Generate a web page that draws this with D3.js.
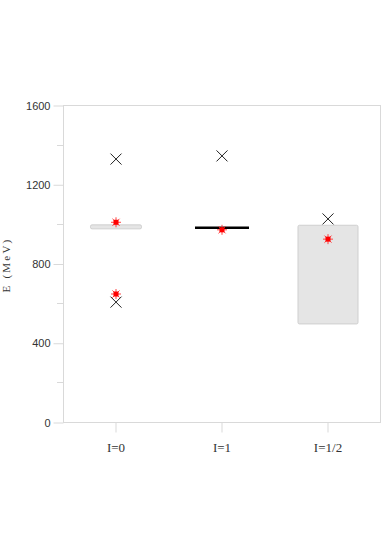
<!DOCTYPE html>
<html>
<head>
<meta charset="utf-8">
<script src="https://cdn.jsdelivr.net/npm/d3@7"></script>
<style>
  body { margin: 0; background: #fff; }
  svg { display: block; }
</style>
</head>
<body>
<div id="chart"></div>
<script>
// categories and values (MeV)
var categories = ["I=0", "I=1", "I=1/2"];
var yTicks = [0, 400, 800, 1200, 1600];
var yMinorTicks = [200, 600, 1000, 1400];

// grey boxes: [category, low, high]
var boxes = [
    ["I=0", 975, 995],
    ["I=1/2", 495, 993]
];
// black level line
var lines = [
    ["I=1", 981]
];
// red stars
var stars = [
    ["I=0", 1008],
    ["I=0", 646],
    ["I=1", 970],
    ["I=1/2", 923]
];
// crosses
var crosses = [
    ["I=0", 1327],
    ["I=0", 605],
    ["I=1", 1343],
    ["I=1/2", 1025]
];

var width = 382, height = 547;
var margin = { top: 105, right: 1, bottom: 125, left: 63 };

var svg = d3.select("#chart").append("svg")
    .attr("width", width)
    .attr("height", height);

var x = d3.scaleBand()
    .domain(categories)
    .range([margin.left, width - margin.right]);

var y = d3.scaleLinear()
    .domain([0, 1600])
    .range([height - margin.bottom, margin.top]);

var grey = "#d9d9d9";

// frame
svg.append("rect")
    .attr("x", margin.left + 0.5)
    .attr("y", y(1600) + 0.5)
    .attr("width", width - margin.right - margin.left - 1)
    .attr("height", y(0) - y(1600))
    .attr("fill", "none")
    .attr("stroke", grey);

// y axis
var yAxis = svg.append("g")
    .attr("transform", "translate(" + (margin.left + 0.5) + ",0.5)")
    .call(d3.axisLeft(y).tickValues(yTicks).tickFormat(d3.format("d")).tickSize(10).tickPadding(3));
yAxis.select(".domain").remove();
yAxis.selectAll(".tick line").attr("stroke", grey);
yAxis.selectAll(".tick text")
    .attr("fill", "#333")
    .attr("font-family", "Liberation Sans, Arial, sans-serif")
    .attr("font-size", 11);

svg.append("g").selectAll("line")
    .data(yMinorTicks)
    .join("line")
    .attr("x1", margin.left - 6)
    .attr("x2", margin.left)
    .attr("y1", d => Math.round(y(d)) + 0.5)
    .attr("y2", d => Math.round(y(d)) + 0.5)
    .attr("stroke", grey);

// x axis
var xAxis = svg.append("g")
    .attr("transform", "translate(0," + (y(0) + 0.5) + ")")
    .call(d3.axisBottom(x).tickSize(10).tickPadding(10));
xAxis.select(".domain").remove();
xAxis.selectAll(".tick line").attr("stroke", grey);
xAxis.selectAll(".tick text")
    .attr("fill", "#333")
    .attr("font-family", "Liberation Serif, Times New Roman, serif")
    .attr("font-size", 13);

// y label
svg.append("text")
    .attr("transform", "translate(10," + 265 + ") rotate(-90)")
    .attr("text-anchor", "middle")
    .attr("font-family", "Liberation Serif, Times New Roman, serif")
    .attr("font-size", 11)
    .attr("letter-spacing", 2.2)
    .attr("fill", "#333")
    .text("E (MeV)");

var cx = d => x(d) + x.bandwidth() / 2;

// boxes
var boxWidth = { "I=0": 51, "I=1/2": 60 };
svg.append("g").selectAll("rect")
    .data(boxes)
    .join("rect")
    .attr("x", d => cx(d[0]) - boxWidth[d[0]] / 2)
    .attr("y", d => y(d[2]))
    .attr("width", d => boxWidth[d[0]])
    .attr("height", d => y(d[1]) - y(d[2]))
    .attr("rx", 1.5)
    .attr("fill", "#e5e5e5")
    .attr("stroke", "#cfcfcf")
    .attr("stroke-width", 1);

// level lines
svg.append("g").selectAll("line")
    .data(lines)
    .join("line")
    .attr("x1", d => cx(d[0]) - 27)
    .attr("x2", d => cx(d[0]) + 27)
    .attr("y1", d => y(d[1]))
    .attr("y2", d => y(d[1]))
    .attr("stroke", "#000")
    .attr("stroke-width", 2.5);

// crosses
var cr = 5.5;
var crossG = svg.append("g").selectAll("g")
    .data(crosses)
    .join("g")
    .attr("transform", d => "translate(" + cx(d[0]) + "," + y(d[1]) + ")");
crossG.append("path")
    .attr("d", "M" + (-cr) + "," + (-cr) + "L" + cr + "," + cr + "M" + (-cr) + "," + cr + "L" + cr + "," + (-cr))
    .attr("stroke", "#222")
    .attr("stroke-width", 1)
    .attr("fill", "none");

// red stars
var sr = 5;
var spokes = d3.range(8).map(i => i * Math.PI / 4);
var starG = svg.append("g").selectAll("g")
    .data(stars)
    .join("g")
    .attr("transform", d => "translate(" + cx(d[0]) + "," + y(d[1]) + ")");
starG.append("path")
    .attr("d", spokes.map(a => "M0,0L" + (sr * Math.cos(a)).toFixed(2) + "," + (sr * Math.sin(a)).toFixed(2)).join(""))
    .attr("stroke", "#ff3030")
    .attr("stroke-width", 0.9);
starG.append("rect")
    .attr("x", -2.5)
    .attr("y", -2.5)
    .attr("width", 5)
    .attr("height", 5)
    .attr("fill", "#ff0000");
</script>
</body>
</html>
